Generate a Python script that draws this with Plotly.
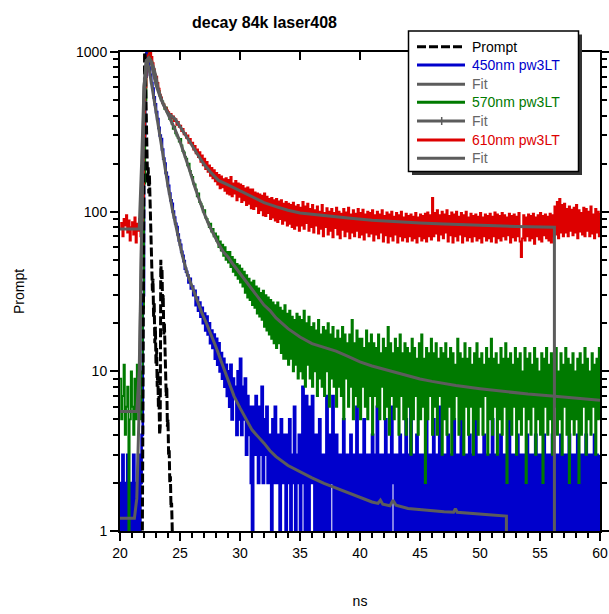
import numpy as np
import plotly.graph_objects as go

# ---------------- data ----------------
t_start, t_step, n_pts = 20.0, 0.1, 401
time_ns = np.round(t_start + t_step * np.arange(n_pts), 2)

blue_450 = [
    2, 1, 3, 1, 2, 1, 3, 2, 1, 2,
    1, 3, 1, 2, 1, 3, 1, 2, 4, 30,
    300, 700, 1000, 880, 800, 720, 640, 590, 520, 470,
    420, 380, 335, 300, 285, 245, 215, 200, 175, 165,
    145, 130, 118, 112, 100, 92, 84, 80, 72, 66,
    62, 56, 53, 49, 44, 42, 40, 36, 38, 33,
    34, 30, 32, 26, 29, 24, 27, 22, 25, 20,
    23, 18, 22, 17, 20, 15, 18, 14, 17, 12,
    16, 11, 15, 10, 13, 9, 12, 8, 11, 7,
    10, 6, 11, 5, 9, 7, 8, 4, 10, 5,
    12, 4, 8, 5, 9, 3, 7, 4, 6, 2,
    1, 6, 3, 7, 4, 2, 6, 3, 8, 2,
    5, 3, 6, 2, 4, 3, 1, 5, 2, 6,
    2, 4, 3, 1, 5, 2, 4, 3, 1, 4,
    2, 5, 1, 3, 2, 6, 1, 3, 2, 4,
    1, 3, 8, 2, 1, 7, 3, 1, 6, 2,
    7, 3, 1, 4, 2, 1, 5, 3, 1, 3,
    2, 1, 7, 3, 1, 4, 2, 7, 1, 3,
    4, 1, 3, 2, 1, 3, 5, 1, 3, 2,
    1, 3, 4, 1, 2, 3, 1, 6, 2, 1,
    3, 1, 2, 5, 1, 3, 2, 1, 3, 1,
    4, 2, 1, 3, 6, 1, 3, 2, 1, 3,
    1, 5, 2, 1, 3, 1, 6, 2, 3, 1,
    3, 2, 1, 4, 1, 3, 2, 1, 5, 1,
    3, 1, 6, 2, 1, 3, 1, 4, 2, 1,
    3, 1, 2, 3, 1, 5, 2, 1, 3, 1,
    2, 5, 1, 3, 1, 2, 6, 1, 3, 2,
    1, 3, 1, 4, 2, 1, 3, 1, 5, 2,
    1, 3, 2, 1, 6, 1, 3, 1, 2, 3,
    1, 4, 1, 3, 2, 1, 5, 1, 3, 1,
    2, 3, 1, 4, 1, 3, 2, 1, 3, 1,
    5, 1, 3, 2, 1, 3, 1, 4, 1, 3,
    2, 1, 3, 1, 5, 2, 1, 3, 1, 3,
    1, 4, 2, 1, 3, 1, 3, 2, 1, 4,
    1, 3, 1, 2, 3, 1, 4, 1, 3, 2,
    1, 3, 1, 4, 2, 1, 3, 1, 3, 1,
    4, 1, 3, 2, 1, 3, 1, 4, 1, 3,
    2, 1, 3, 1, 4, 1, 3, 2, 1, 3,
    1, 4, 1, 3, 2, 1, 3, 1, 4, 1,
    3, 2, 1, 3, 1, 4, 1, 3, 2, 1,
    3]

green_570 = [
    9, 5, 7, 11, 4, 6, 8, 1, 5, 10,
    6, 4, 9, 5, 11, 6, 7, 5, 10, 25,
    150, 500, 800, 950, 1000, 920, 870, 790, 740, 680,
    640, 590, 570, 530, 500, 490, 470, 440, 450, 420,
    410, 380, 390, 355, 330, 340, 310, 300, 290, 275,
    285, 260, 240, 235, 220, 215, 195, 200, 180, 170,
    165, 150, 148, 138, 125, 130, 115, 112, 108, 100,
    102, 92, 90, 86, 80, 84, 75, 78, 70, 73,
    66, 70, 60, 65, 57, 62, 53, 60, 50, 56,
    48, 56, 45, 52, 42, 50, 40, 47, 38, 46,
    36, 44, 34, 42, 31, 40, 29, 38, 28, 36,
    26, 37, 25, 34, 23, 33, 22, 31, 21, 32,
    19, 30, 18, 29, 17, 28, 16, 27, 15, 26,
    14, 27, 15, 25, 13, 24, 12, 26, 12, 23,
    11, 24, 12, 22, 10, 21, 11, 23, 9, 22,
    10, 21, 9, 24, 8, 20, 11, 22, 9, 19,
    8, 20, 10, 18, 7, 21, 9, 17, 8, 19,
    7, 18, 10, 20, 6, 17, 9, 19, 8, 16,
    6, 18, 8, 16, 7, 19, 5, 17, 9, 15,
    6, 17, 8, 21, 5, 15, 7, 18, 6, 16,
    5, 16, 8, 14, 6, 18, 5, 15, 7, 17,
    4, 15, 7, 14, 6, 17, 5, 13, 8, 16,
    5, 14, 6, 19, 4, 15, 7, 13, 5, 16,
    6, 14, 4, 17, 7, 13, 5, 15, 4, 14,
    6, 13, 3, 16, 5, 14, 7, 12, 4, 15,
    5, 17, 6, 12, 2, 14, 5, 13, 7, 16,
    4, 13, 6, 15, 4, 12, 7, 14, 3, 13,
    5, 15, 4, 12, 6, 14, 3, 13, 5, 11,
    7, 16, 4, 13, 5, 12, 3, 15, 6, 12,
    4, 14, 6, 11, 3, 13, 5, 15, 4, 12,
    6, 13, 4, 11, 7, 14, 3, 12, 5, 16,
    4, 12, 6, 13, 3, 11, 5, 14, 4, 12,
    6, 15, 2, 12, 5, 13, 4, 11, 6, 14,
    3, 12, 5, 13, 4, 10, 6, 14, 2, 12,
    5, 13, 4, 11, 6, 14, 3, 12, 5, 10,
    4, 13, 2, 12, 6, 14, 4, 11, 5, 13,
    3, 12, 6, 14, 4, 10, 5, 13, 3, 11,
    6, 14, 4, 12, 2, 11, 5, 13, 4, 10,
    5, 12, 2, 13, 4, 11, 6, 14, 3, 12,
    5, 10, 4, 13, 6, 11, 3, 12, 5, 14,
    5]

red_610 = [
    78, 85, 70, 90, 82, 95, 74, 88, 66, 80,
    86, 72, 92, 64, 84, 76, 90, 70, 85, 110,
    280, 600, 850, 950, 980, 1000, 930, 850, 780, 720,
    700, 640, 590, 540, 520, 480, 470, 450, 445, 430,
    420, 400, 410, 385, 395, 370, 380, 350, 365, 340,
    345, 320, 330, 305, 310, 290, 300, 270, 285, 265,
    270, 245, 258, 232, 245, 220, 236, 205, 225, 195,
    215, 185, 205, 178, 195, 168, 188, 162, 182, 155,
    175, 148, 170, 140, 166, 142, 160, 135, 162, 130,
    158, 128, 165, 125, 150, 130, 156, 118, 150, 124,
    148, 115, 145, 118, 140, 110, 142, 112, 138, 105,
    138, 104, 132, 108, 130, 98, 128, 102, 126, 95,
    130, 94, 124, 98, 120, 90, 122, 92, 118, 88,
    120, 86, 116, 90, 118, 84, 112, 88, 115, 82,
    112, 84, 110, 80, 114, 78, 108, 82, 110, 76,
    106, 82, 115, 78, 108, 85, 112, 76, 104, 80,
    110, 74, 102, 82, 108, 73, 100, 78, 110, 70,
    98, 80, 105, 72, 100, 76, 104, 69, 98, 79,
    106, 72, 100, 68, 97, 77, 104, 70, 99, 75,
    106, 68, 96, 74, 102, 70, 97, 76, 104, 69,
    98, 72, 103, 67, 96, 74, 100, 70, 98, 73,
    102, 66, 95, 72, 100, 68, 96, 74, 102, 65,
    94, 71, 99, 64, 96, 70, 100, 66, 93, 72,
    98, 64, 95, 70, 100, 66, 92, 69, 97, 65,
    94, 70, 96, 66, 93, 68, 98, 64, 92, 70,
    96, 66, 94, 68, 97, 65, 99, 70, 95, 67,
    122, 70, 98, 73, 102, 66, 95, 72, 100, 68,
    96, 74, 102, 65, 94, 71, 99, 64, 96, 70,
    100, 66, 93, 72, 98, 64, 95, 70, 100, 66,
    92, 69, 97, 65, 94, 70, 96, 66, 93, 68,
    98, 64, 92, 70, 96, 66, 94, 68, 97, 65,
    93, 70, 99, 64, 96, 68, 94, 66, 98, 70,
    95, 67, 92, 71, 97, 64, 94, 69, 96, 66,
    93, 70, 98, 65, 52, 68, 95, 66, 92, 70,
    96, 66, 94, 68, 97, 63, 92, 70, 95, 67,
    98, 65, 94, 71, 96, 68, 93, 66, 97, 64,
    95, 70, 108, 72, 115, 68, 120, 74, 110, 70,
    112, 74, 104, 70, 108, 76, 103, 71, 106, 74,
    110, 68, 102, 75, 98, 72, 106, 70, 104, 76,
    100, 70, 108, 73, 96, 68, 104, 74, 100, 70,
    98]

prompt_t = [21.85, 21.90, 21.95, 22.00, 22.05, 22.10, 22.15, 22.20, 22.25,
            22.30, 22.35, 22.40, 22.45, 22.50, 22.55, 22.60, 22.65, 22.70, 22.75,
            22.80, 22.85, 22.90, 22.95, 23.00, 23.05, 23.10, 23.15, 23.20, 23.25,
            23.30, 23.35, 23.40, 23.45, 23.50, 23.55, 23.60, 23.65, 23.70, 23.75,
            23.80, 23.85, 23.90, 23.95, 24.00, 24.05, 24.10, 24.15, 24.20, 24.25,
            24.30, 24.35, 24.40]
prompt_counts = [0.6, 3, 60, 450, 1000, 900, 500, 260, 200,
                 150, 190, 130, 170, 110, 90, 60, 45, 32, 38,
                 22, 27, 15, 19, 11, 14, 8, 10, 6, 7,
                 4, 4.5, 50, 38, 44, 26, 30, 17, 20, 11,
                 12, 7, 8, 4.5, 5, 3, 3.2, 2, 2.2, 1.4,
                 1.5, 1.05, 0.6]

fit450_t = [20.0, 21.2, 21.4, 21.6, 21.8, 22.0, 22.2, 22.4, 22.6, 22.8,
            23.0, 23.3, 23.6, 24.0, 24.4, 24.8, 25.2, 25.6, 26.0, 26.4,
            26.8, 27.2, 27.6, 28.0, 28.5, 29.0, 29.5, 30.0, 30.5, 31.0,
            31.5, 32.0, 32.5, 33.0, 34.0, 35.0, 36.0, 37.0, 38.0, 39.0,
            40.0, 41.0, 41.5, 41.7, 41.9, 42.5, 42.75, 43.0, 44.0, 45.0,
            46.0, 47.0, 47.8, 47.95, 48.1, 49.0, 50.0, 51.0, 52.2, 52.2]
fit450_y = [1.2, 1.2, 1.6, 6, 80, 600, 900, 800, 650, 520,
            420, 300, 215, 145, 100, 72, 53, 41, 34, 28,
            23.5, 20, 17, 14.2, 11.2, 8.8, 7.0, 5.9, 5.0, 4.3,
            3.9, 3.55, 3.18, 2.92, 2.57, 2.34, 2.15, 1.99, 1.86, 1.73,
            1.62, 1.52, 1.49, 1.56, 1.47, 1.44, 1.56, 1.45, 1.385, 1.36,
            1.34, 1.32, 1.31, 1.38, 1.31, 1.29, 1.275, 1.26, 1.24, 0.5]

fit570_t = [20.0, 21.4, 21.6, 21.8, 22.0, 22.2, 22.4, 22.6, 22.8, 23.0,
            23.4, 23.8, 24.2, 24.6, 25.0, 25.4, 25.8, 26.2, 26.6, 27.0,
            27.4, 27.8, 28.2, 28.6, 29.0, 29.5, 30.0, 30.5, 31.0, 31.5,
            32.0, 32.5, 33.0, 34.0, 35.0, 36.0, 37.0, 38.0, 39.0, 40.0,
            41.0, 42.0, 43.0, 44.0, 45.0, 46.0, 48.0, 50.0, 52.0, 54.0,
            56.0, 58.0, 60.0]
fit570_y = [5.6, 5.6, 10, 100, 500, 850, 920, 850, 720, 620,
            510, 440, 380, 325, 275, 225, 182, 145, 118, 98,
            83, 72, 63, 56, 52, 46, 41, 36.5, 32.5, 29,
            26, 24, 21.6, 18.5, 16.4, 14.9, 14.2, 13.4, 12.4, 11.45,
            10.8, 10.3, 9.8, 9.3, 8.95, 8.65, 8.15, 7.78, 7.45, 7.2,
            7.0, 6.8, 6.6]

fit610_t = [20.0, 21.6, 21.8, 22.0, 22.2, 22.4, 22.6, 22.8, 23.0, 23.2,
            23.6, 24.0, 24.6, 25.2, 25.8, 26.4, 27.0, 27.6, 28.2, 29.0,
            30.0, 31.0, 32.0, 33.0, 34.0, 35.0, 37.0, 39.0, 41.0, 43.0,
            45.0, 47.0, 49.0, 51.0, 53.0, 56.2, 56.2]
fit610_y = [78, 78, 200, 600, 880, 920, 880, 800, 700, 580,
            470, 415, 380, 320, 275, 232, 198, 175, 157, 147,
            135, 123, 114, 107.5, 102, 98, 94.3, 91.3, 88.5, 86.5,
            85, 83.6, 82.5, 81.5, 80.75, 80, 0.5]

x_major = [20, 25, 30, 35, 40, 45, 50, 55, 60]
y_major = [1, 10, 100, 1000]
y_minor = [m * d for d in (1, 10, 100) for m in range(2, 10)]

legend_names = ["Prompt", "450nm pw3LT", "Fit", "570nm pw3LT", "Fit", "610nm pw3LT", "Fit"]

# ---------------- styles ----------------
BLUE, GREEN, RED, GRAY, BLACK = "#0000cc", "#007a00", "#dd0000", "#5c5c5c", "#000000"
FONT = "Arial, Liberation Sans, Helvetica, sans-serif"

fig = go.Figure()
for yy, col, nm, lw in ((blue_450, BLUE, legend_names[1], 2.6),
                        (green_570, GREEN, legend_names[3], 1.9),
                        (red_610, RED, legend_names[5], 1.9)):
    fig.add_trace(go.Scatter(x=time_ns, y=yy, mode="lines", line=dict(color=col, width=lw, shape="hv"),
                             name=nm, showlegend=False))
fig.add_trace(go.Scatter(x=prompt_t, y=prompt_counts, mode="lines",
                         line=dict(color=BLACK, width=3, dash="9px,3px"),
                         name=legend_names[0], showlegend=False))
for tt, yy in ((fit450_t, fit450_y), (fit570_t, fit570_y), (fit610_t, fit610_y)):
    fig.add_trace(go.Scatter(x=tt, y=yy, mode="lines", line=dict(color=GRAY, width=3),
                             name="Fit", showlegend=False))
# dummy trace so the top axis is drawn
fig.add_trace(go.Scatter(x=[None], y=[None], xaxis="x2", yaxis="y", showlegend=False, hoverinfo="skip"))

# ---------------- layout ----------------
L, R, T, B = 120, 9, 52, 83
W, H = 609, 614
pw, ph = W - L - R, H - T - B


def fx(px):
    return (px - L) / pw


def fy(py):
    return (H - B - py) / ph


fig.update_layout(
    width=W, height=H,
    margin=dict(l=L, r=R, t=T, b=B, pad=0, autoexpand=False),
    paper_bgcolor="white", plot_bgcolor="white",
    showlegend=False,
    font=dict(family=FONT, size=14, color=BLACK),
    title=dict(text="<b>decay 84k laser408</b>", x=264.5 / W, xref="container", xanchor="center",
               y=1 - 22 / H, yref="container", yanchor="middle", font=dict(size=16, family=FONT)),
    xaxis=dict(range=[20, 60], tickvals=x_major, ticks="outside", ticklen=8, tickwidth=2,
               tickcolor=BLACK, showline=True, linecolor=BLACK, linewidth=2, mirror=False,
               showgrid=False, zeroline=False, automargin=False,
               minor=dict(dtick=1, ticks="outside", ticklen=5, tickwidth=1.5, tickcolor=BLACK, showgrid=False),
               title=dict(text="ns", standoff=36, font=dict(size=14)),
               tickfont=dict(size=14)),
    xaxis2=dict(range=[20, 60], overlaying="x", side="top", anchor="y", tickvals=x_major,
                ticks="inside", ticklen=8, tickwidth=2, tickcolor=BLACK, showticklabels=False,
                showline=True, linecolor=BLACK, linewidth=2, showgrid=False, zeroline=False,
                automargin=False),
    yaxis=dict(type="log", range=[0, 3], tickvals=y_major, ticktext=[str(v) for v in y_major],
               ticks="outside", ticklen=8, tickwidth=2, tickcolor=BLACK,
               showline=True, linecolor=BLACK, linewidth=2, mirror="ticks",
               showgrid=False, zeroline=False, automargin=False,
               minor=dict(tickvals=y_minor, ticks="outside", ticklen=5, tickwidth=1.5, tickcolor=BLACK,
                          showgrid=False),
               title=dict(text="Prompt", standoff=48, font=dict(size=14)),
               tickfont=dict(size=14)),
)

# ---------------- legend box (drawn) ----------------
box_l, box_r, box_t, box_b = 408.5, 578.5, 31, 171.5
shapes = [
    dict(type="rect", xref="paper", yref="paper", x0=fx(box_l + 3.5), x1=fx(box_r + 3.5),
         y0=fy(box_b + 3.5), y1=fy(box_t + 3.5), fillcolor="#333333", line=dict(width=0), layer="above"),
    dict(type="rect", xref="paper", yref="paper", x0=fx(box_l), x1=fx(box_r),
         y0=fy(box_b), y1=fy(box_t), fillcolor="white", line=dict(color=BLACK, width=1.5), layer="above"),
]
entry_y = [46.7, 65, 84.3, 102.3, 121, 140, 158.3]
entry_col = [BLACK, BLUE, GRAY, GREEN, GRAY, RED, GRAY]
text_col = [BLACK, BLUE, "#666666", GREEN, "#666666", RED, "#666666"]
annotations = []
for i, (ey, name) in enumerate(zip(entry_y, legend_names)):
    ln = dict(type="line", xref="paper", yref="paper", x0=fx(417), x1=fx(465), y0=fy(ey), y1=fy(ey),
              line=dict(color=entry_col[i], width=3), layer="above")
    if i == 0:
        ln["line"]["dash"] = "9px,3px"
    shapes.append(ln)
    if i == 4:
        shapes.append(dict(type="line", xref="paper", yref="paper", x0=fx(441.7), x1=fx(441.7),
                           y0=fy(ey - 4), y1=fy(ey + 4), line=dict(color=GRAY, width=1.5), layer="above"))
    annotations.append(dict(text=name, xref="paper", yref="paper", x=fx(470), y=fy(ey),
                            xanchor="left", yanchor="middle", showarrow=False,
                            font=dict(size=14, color=text_col[i], family=FONT)))
fig.update_layout(shapes=shapes, annotations=annotations)

fig.write_html("out.html")
